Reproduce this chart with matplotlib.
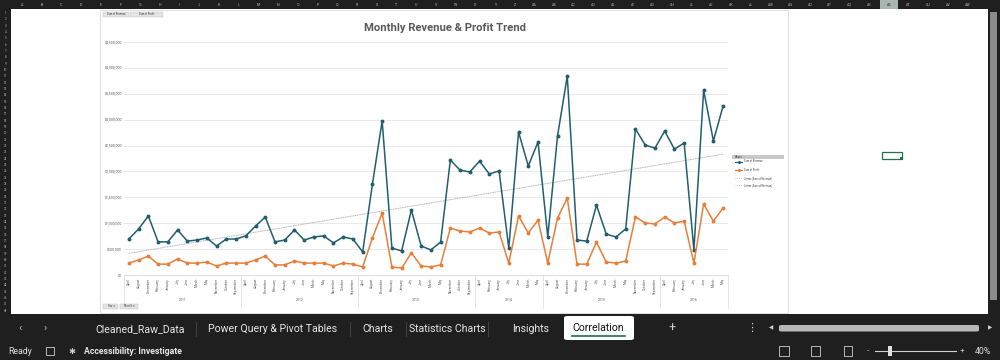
import numpy as np
import matplotlib.pyplot as plt
import matplotlib.transforms as mtransforms
from matplotlib.patches import Rectangle, FancyBboxPatch
from matplotlib.lines import Line2D

years = ['2011', '2012', '2013', '2014', '2015', '2016']
months_full = ['April', 'August', 'December', 'February', 'January', 'July',
               'June', 'March', 'May', 'November', 'October', 'September']
months_part = ['April', 'February', 'January', 'July', 'June', 'March', 'May']
year_months = [months_full, months_full, months_full, months_part, months_full, months_part]

revenue = [695000, 890000, 1140000, 640000, 640000, 870000, 655000, 675000, 715000, 560000, 695000, 695000,
           755000, 945000, 1120000, 640000, 675000, 870000, 675000, 735000, 755000, 620000, 735000, 695000,
           445000, 1755000, 2975000, 520000, 465000, 1255000, 560000, 485000, 635000, 2220000, 2025000, 1990000,
           2200000, 1950000, 2010000, 520000, 2760000, 2105000, 2570000,
           735000, 2685000, 3840000, 675000, 655000, 1350000, 790000, 735000, 890000, 2820000, 2510000, 2450000,
           2780000, 2430000, 2550000, 485000, 3570000, 2590000, 3265000]
profit = [230000, 290000, 365000, 210000, 210000, 310000, 230000, 230000, 250000, 175000, 230000, 230000,
          230000, 290000, 365000, 195000, 195000, 270000, 230000, 230000, 230000, 175000, 230000, 210000,
          155000, 715000, 1195000, 155000, 135000, 425000, 175000, 155000, 195000, 905000, 850000, 830000,
          905000, 810000, 830000, 230000, 1140000, 810000, 1060000,
          230000, 1100000, 1485000, 210000, 210000, 635000, 250000, 230000, 270000, 1120000, 1005000, 985000,
          1120000, 1005000, 1040000, 230000, 1370000, 1040000, 1295000]

sheet_tabs = ['Cleaned_Raw_Data', 'Power Query & Pivot Tables', 'Charts', 'Statistics Charts', 'Insights']
active_tab = 'Correlation'

TEAL = '#215e70'
ORANGE = '#e67f3a'
DARK = '#1f1f1f'
GREY_TXT = '#595959'

plt.rcParams['font.family'] = ['Roboto', 'DejaVu Sans']

fig = plt.figure(figsize=(10, 3.6), dpi=100)
fig.patch.set_facecolor('white')


def fx(x):
    return x / 1000


def fy(y):
    return 1 - y / 360


def rect(x0, y0, x1, y1, fc, ec='none', lw=0, z=0):
    fig.patches.append(Rectangle((fx(x0), fy(y1)), (x1 - x0) / 1000, (y1 - y0) / 360,
                                 transform=fig.transFigure, facecolor=fc, edgecolor=ec,
                                 linewidth=lw, zorder=z))


def txt(x, y, s, **kw):
    fig.text(fx(x), fy(y), s, **kw)


# --- excel chrome ---
rect(0, 0, 1000, 9, DARK)
for i in range(49):
    name = chr(65 + i) if i < 26 else 'A' + chr(65 + i - 26)
    cx = 22 + 19.7 * i
    if i == 44:
        rect(cx - 9, 0.5, cx + 9, 8.5, '#a8b5b0')
        txt(cx, 4.6, name, fontsize=2.6, color='#1f1f1f', ha='center', va='center')
    else:
        txt(cx, 4.6, name, fontsize=2.6, color='#bdbdbd', ha='center', va='center')
rect(0, 9, 11, 314, DARK)
for r in range(48):
    cy = 13 + 6.33 * r
    txt(5.5, cy, str(r + 1), fontsize=2.2, color='#bdbdbd', ha='center', va='center')
rect(988, 0, 1000, 314, DARK)
rect(990, 12, 997, 300, '#8c8c8c')
rect(0, 314, 1000, 360, DARK)

# chart area border
rect(100, 10, 788, 313, 'none', ec='#d9d9d9', lw=0.6, z=1)

# selected cell
rect(882, 152, 902, 159, 'none', ec='#217346', lw=0.9, z=2)
rect(900, 157, 903, 160, '#217346', z=3)

# sheet tabs
txt(20, 328, '‹', fontsize=8, color='#bdbdbd', ha='center', va='center')
txt(45, 328, '›', fontsize=8, color='#bdbdbd', ha='center', va='center')
tab_x = [140, 273, 378, 447, 531]
for t, x in zip(sheet_tabs, tab_x):
    txt(x, 329, t, fontsize=7.6, color='#e6e6e6', ha='center', va='center')
for x in [196, 350, 406, 488, 570]:
    fig.add_artist(Line2D([fx(x), fx(x)], [fy(322), fy(336)], transform=fig.transFigure,
                          color='#4a4a4a', lw=0.6))
fig.patches.append(FancyBboxPatch((fx(564), fy(340)), 70 / 1000, 24 / 360, boxstyle='round,pad=0,rounding_size=0.004',
                                  transform=fig.transFigure, facecolor='white', edgecolor='none', zorder=2))
txt(598, 328, active_tab, fontsize=7.6, color='#111111', ha='center', va='center', zorder=3)
fig.add_artist(Line2D([fx(572), fx(625)], [fy(336), fy(336)], transform=fig.transFigure,
                      color='#1e7145', lw=1.2, zorder=4))
txt(672, 328, '+', fontsize=9, color='#d0d0d0', ha='center', va='center')
txt(752, 328, '⋮', fontsize=8, color='#d0d0d0', ha='center', va='center', family='DejaVu Sans')
txt(771, 328, '◀', fontsize=4, color='#d0d0d0', ha='center', va='center', family='DejaVu Sans')
txt(990, 328, '▶', fontsize=4, color='#d0d0d0', ha='center', va='center', family='DejaVu Sans')
fig.patches.append(FancyBboxPatch((fx(779), fy(331.5)), 200 / 1000, 6.5 / 360,
                                  boxstyle='round,pad=0,rounding_size=0.003',
                                  transform=fig.transFigure, facecolor='#b8b8b8', edgecolor='none'))

# status bar
txt(8, 351, 'Ready', fontsize=6.3, color='#e0e0e0', ha='left', va='center')
rect(46, 347, 54, 355, 'none', ec='#cfcfcf', lw=0.6, z=2)
txt(72, 351, '✱', fontsize=6, color='#cfcfcf', ha='center', va='center', family='DejaVu Sans')
txt(84, 351, 'Accessibility: Investigate', fontsize=6.3, color='#e6e6e6', ha='left', va='center',
    fontweight='bold')
rect(779, 346, 789, 356, 'none', ec='#cfcfcf', lw=0.6, z=2)
rect(811, 346, 820, 356, 'none', ec='#cfcfcf', lw=0.6, z=2)
rect(844, 346, 852, 356, 'none', ec='#cfcfcf', lw=0.6, z=2)
txt(868, 351, '-', fontsize=6, color='#cfcfcf', ha='center', va='center')
fig.add_artist(Line2D([fx(875), fx(956)], [fy(351), fy(351)], transform=fig.transFigure,
                      color='#cfcfcf', lw=0.8))
rect(888, 346, 892, 356, '#e0e0e0', z=2)
txt(962, 351, '+', fontsize=6, color='#cfcfcf', ha='center', va='center')
txt(983, 351, '40%', fontsize=6.3, color='#e0e0e0', ha='center', va='center')

# pivot field buttons
for x0, x1, lab in [(103, 129, 'Sum of Revenue'), (130, 163, 'Sum of Profit')]:
    rect(x0, 12, x1, 16.5, '#e3e3e3', ec='#bfbfbf', lw=0.3, z=2)
    txt((x0 + x1) / 2, 14.3, lab, fontsize=1.9, color='#333333', ha='center', va='center', zorder=3)
for x0, x1, lab in [(103, 118, 'Year ▾'), (120, 138, 'Month ▾')]:
    rect(x0, 304, x1, 308.5, '#e3e3e3', ec='#bfbfbf', lw=0.3, z=2)
    txt((x0 + x1) / 2, 306.3, lab, fontsize=1.9, color='#333333', ha='center', va='center', zorder=3,
        family='DejaVu Sans')

# --- chart ---
txt(445, 28, 'Monthly Revenue & Profit Trend', fontsize=8.1, fontweight='bold', color=GREY_TXT,
    ha='center', va='center')

ax = fig.add_axes([fx(124), fy(275), (728 - 124) / 1000, (275 - 42) / 360])
ax.set_facecolor('none')
n = len(revenue)
x = np.arange(n)

ax.plot(x, revenue, color=TEAL, lw=1.1, marker='o', ms=1.8, zorder=3)
ax.plot(x, profit, color=ORANGE, lw=1.1, marker='o', ms=1.8, zorder=3)
k, b = np.polyfit(x, revenue, 1)
ax.plot(x, k * x + b, color='#b3b3b3', lw=0.7, ls=(0, (1.2, 0.6)), zorder=2)

ax.set_xlim(-0.5, n - 0.5)
ax.set_ylim(0, 4500000)
ax.set_yticks(np.arange(0, 4500001, 500000))
ax.set_yticklabels(['${:,.0f}'.format(v) for v in np.arange(0, 4500001, 500000)],
                   fontsize=2.5, color=GREY_TXT)
ax.tick_params(axis='y', length=0, pad=1.5)
ax.set_xticks([])
ax.grid(axis='y', color='#e6e6e6', lw=0.6)
ax.set_axisbelow(True)
for s in ['top', 'right', 'left']:
    ax.spines[s].set_visible(False)
ax.spines['bottom'].set_color('#d9d9d9')
ax.spines['bottom'].set_linewidth(0.6)

trans = mtransforms.blended_transform_factory(ax.transData, ax.transAxes)
bounds = [0]
for m in year_months:
    bounds.append(bounds[-1] + len(m))
for bnd in bounds:
    ax.plot([bnd - 0.5, bnd - 0.5], [0, -0.14], transform=trans, color='#d9d9d9', lw=0.5, clip_on=False)
i = 0
for yr, m in zip(years, year_months):
    for lab in m:
        ax.text(i, -0.013, lab, transform=trans, rotation=90, ha='center', va='top',
                fontsize=2.3, color=GREY_TXT)
        i += 1
    mid = i - len(m) / 2 - 0.5
    ax.text(mid, -0.107, yr, transform=trans, ha='center', va='center', fontsize=2.5, color=GREY_TXT)

# legend
rect(732, 155, 784, 158.5, '#c9c9c9', z=2)
txt(735, 156.8, 'Values', fontsize=1.9, color='#333333', ha='left', va='center', zorder=3)
leg = [(161.5, TEAL, '-', 'Sum of Revenue', True),
       (170, ORANGE, '-', 'Sum of Profit', True),
       (178, '#a6a6a6', ':', 'Linear (Sum of Revenue)', False),
       (185, '#a6a6a6', ':', 'Linear (Sum of Revenue)', False)]
for yy, c, ls, lab, mk in leg:
    fig.add_artist(Line2D([fx(735), fx(742)], [fy(yy), fy(yy)], transform=fig.transFigure,
                          color=c, lw=0.8 if mk else 0.5, ls=ls))
    if mk:
        fig.add_artist(Line2D([fx(738.5)], [fy(yy)], transform=fig.transFigure, color=c,
                              marker='o', ms=1.2, lw=0))
    txt(744, yy, lab, fontsize=1.9, color='#404040', ha='left', va='center')

fig.savefig('out.png', dpi=100)
